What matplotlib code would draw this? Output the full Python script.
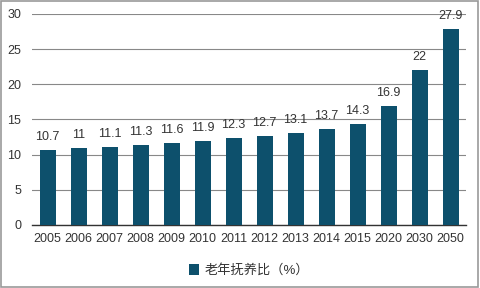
import matplotlib
matplotlib.use("Agg")
import matplotlib.pyplot as plt
from matplotlib.patches import Rectangle

plt.rcParams['font.family'] = ['Liberation Sans', 'Noto Sans CJK SC', 'DejaVu Sans']

years = ['2005', '2006', '2007', '2008', '2009', '2010', '2011',
         '2012', '2013', '2014', '2015', '2020', '2030', '2050']
ratio = [10.7, 11, 11.1, 11.3, 11.6, 11.9, 12.3, 12.7, 13.1, 13.7, 14.3, 16.9, 22, 27.9]
yticks = [0, 5, 10, 15, 20, 25, 30]

bar_color = '#0d506c'
text_color = '#333333'

fig = plt.figure(figsize=(4.8, 2.88), dpi=100)
ax = fig.add_axes([0.067, 0.219, 0.904, 0.733])

x = range(len(years))
bars = ax.bar(x, ratio, width=0.52, color=bar_color, zorder=3, label='老年抚养比（%）')
for xi, v in zip(x, ratio):
    ax.annotate('{:g}'.format(v), (xi, v), xytext=(0, 5), textcoords='offset points',
                ha='center', va='bottom', fontsize=9, color=text_color)

ax.set_xlim(-0.5, len(years) - 0.5)
ax.set_ylim(0, 30)
ax.set_yticks(yticks)
ax.set_xticks(list(x))
ax.set_xticklabels(years)
ax.tick_params(axis='both', length=0, labelsize=9, labelcolor=text_color)
ax.tick_params(axis='x', pad=6)
ax.tick_params(axis='y', pad=8)
ax.yaxis.grid(True, color='#888888', linewidth=0.8, zorder=0)
for loc in ['top', 'right', 'left']:
    ax.spines[loc].set_visible(False)
ax.spines['bottom'].set_color('#333333')
ax.spines['bottom'].set_linewidth(1.0)

ax.legend(loc='upper center', bbox_to_anchor=(0.5, -0.13), frameon=False,
          fontsize=9.5, handlelength=0.8, handleheight=0.8, handletextpad=0.4,
          labelcolor=text_color)

fig.patches.append(Rectangle((0.002, 0.003), 0.994, 0.993, transform=fig.transFigure,
                             fill=False, edgecolor='#999999', linewidth=1.2))

fig.savefig('out.png', dpi=100)
